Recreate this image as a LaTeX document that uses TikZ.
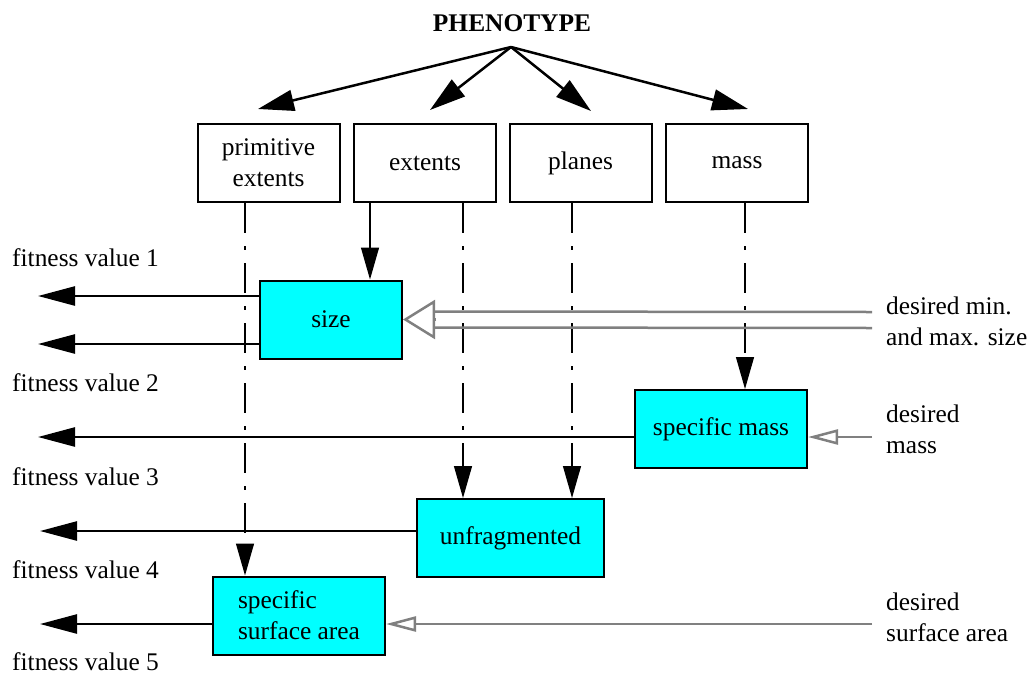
\documentclass[tikz,border=0pt]{standalone}
\usepackage{fontspec}
\setmainfont{Liberation Serif}
\usetikzlibrary{arrows.meta}
\definecolor{aqua}{RGB}{0,255,255}

\begin{document}
\begin{tikzpicture}[x=1pt,y=-1pt,
      font=\fontsize{25.4}{31}\selectfont,
      box/.style={draw, line width=2pt, minimum width=142pt, minimum height=78pt, align=center, inner sep=2pt},
      meas/.style={box, fill=aqua},
      lbl/.style={anchor=west, inner sep=0pt, align=left},
      bigarrow/.style={line width=2.5pt, -{Triangle[length=36pt,width=21pt]}},
      outarrow/.style={line width=2.5pt, -{Triangle[length=37pt,width=19pt]}},
      downarrow/.style={line width=1.3pt, -{Triangle[length=32pt,width=18pt]}},
      dashdown/.style={downarrow, dash pattern=on 30pt off 13pt on 4pt off 13pt},
      wish/.style={gray, line width=2.5pt},
      wisharrow/.style={wish, -{Triangle[open,length=30pt,width=15pt]}}]

      \useasboundingbox (0,0) rectangle (1030,675);

      \node [font=\fontsize{25.4}{31}\selectfont\bfseries] (pheno) at (512,23) {PHENOTYPE};
      \coordinate (apex) at (511,47);

      \node [box] (prim) at (268.5,163) {primitive\\extents};
      \node [box] (ext) at (425,163) {extents};
      \node [box] (pla) at (580.5,163) {planes};
      \node [box] (mass) at (737,163) {mass};

      \coordinate (t1) at (258,109);
      \coordinate (t2) at (430,110);
      \coordinate (t3) at (591,111);
      \coordinate (t4) at (748,109);
      \foreach \t in {t1,t2,t3,t4}
         \draw [bigarrow] (apex) -- (\t);

      \node [meas] (size) at (331,319.5) {size};
      \node [meas, minimum width=172pt] (smass) at (721,429) {specific mass};
      \node [meas, minimum width=187pt] (unfrag) at (510.5,538) {unfragmented};
      \node [meas, minimum width=172pt, align=left] (ssa) at (299,615.5) {specific\\surface area};

      \coordinate (c1) at (245,0);
      \coordinate (c2) at (370,0);
      \coordinate (c3) at (463,0);
      \coordinate (c4) at (572,0);
      \coordinate (c5) at (745,0);

      \draw [dashdown] (prim.south -| c1) -- (ssa.north -| c1);
      \draw [downarrow] (ext.south -| c2) -- (size.north -| c2);
      \draw [dashdown] (ext.south -| c3) -- (unfrag.north -| c3);
      \draw [dashdown] (pla.south -| c4) -- (unfrag.north -| c4);
      \draw [dashdown] (mass.south -| c5) -- (smass.north -| c5);

      \coordinate (fv1) at (38,296);
      \coordinate (fv2) at (38,344);
      \coordinate (fv3) at (38,437);
      \coordinate (fv4) at (40,531);
      \coordinate (fv5) at (40,624);

      \draw [outarrow] (size.west |- fv1) -- (fv1);
      \draw [outarrow] (size.west |- fv2) -- (fv2);
      \draw [outarrow] (smass.west |- fv3) -- (fv3);
      \draw [outarrow] (unfrag.west |- fv4) -- (fv4);
      \draw [outarrow] (ssa.west |- fv5) -- (fv5);

      \node [lbl] (fit1) at (12,258) {fitness value 1};
      \node [lbl] (fit2) at (12,383) {fitness value 2};
      \node [lbl] (fit3) at (12,477) {fitness value 3};
      \node [lbl] (fit4) at (12,570) {fitness value 4};
      \node [lbl] (fit5) at (12,662) {fitness value 5};

      \node [lbl] (dsize) at (886,321) {desired min.\\and max. size};
      \node [lbl] (dmass) at (886,429) {desired\\mass};
      \node [lbl] (darea) at (886,617) {desired\\surface area};

      \coordinate (ws) at (872,320);
      \coordinate (wm) at (872,437);
      \coordinate (wa) at (872,624);

      \draw [wish] ([yshift=8pt]ws) -- ([yshift=8pt,xshift=32pt]size.east);
      \draw [wish] ([yshift=-8pt]ws) -- ([yshift=-8pt,xshift=32pt]size.east);
      \draw [wish, -{Triangle[open,length=32pt,width=39pt]}] ([xshift=33pt]size.east) -- (size.east);

      \draw [wisharrow] (wm) -- (smass.east |- wm);
      \draw [wisharrow] (wa) -- (ssa.east |- wa);

   \end{tikzpicture}
\end{document}
